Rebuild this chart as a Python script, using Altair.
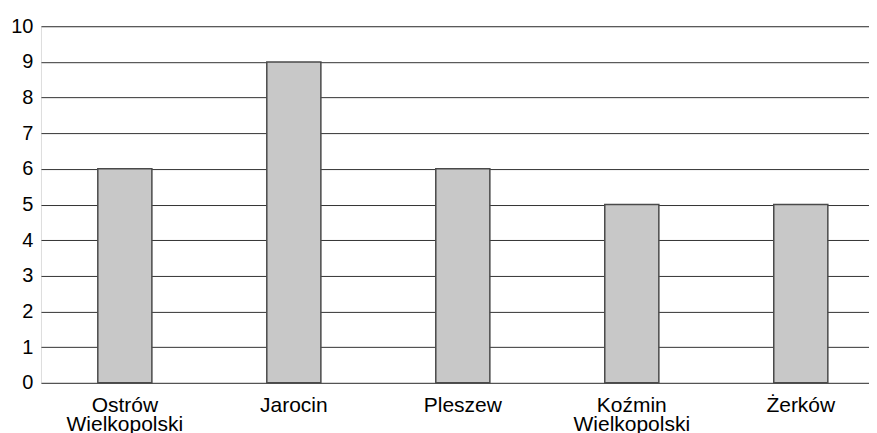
import altair as alt
import pandas as pd

towns = ["Ostrów\nWielkopolski", "Jarocin", "Pleszew", "Koźmin\nWielkopolski", "Żerków"]
values = [6, 9, 6, 5, 5]

df = pd.DataFrame({"town": towns, "value": values})

chart = alt.Chart(df).mark_bar(
    color="#c8c8c8", stroke="#4a4a4a", strokeWidth=1.5
).encode(
    x=alt.X("town:N", sort=towns, title=None,
            scale=alt.Scale(paddingInner=0.68, paddingOuter=0.29, align=0.58),
            axis=alt.Axis(labelAngle=0, ticks=False, domain=False,
                          labelExpr="split(datum.label, '\\n')",
                          labelFont="Liberation Sans", labelFontSize=21,
                          labelColor="#000", labelPadding=12, labelLineHeight=19)),
    y=alt.Y("value:Q", title=None,
            scale=alt.Scale(domain=[0, 10], nice=False),
            axis=alt.Axis(values=list(range(0, 11)), ticks=False, domain=False,
                          grid=True, gridColor="#333", gridWidth=1, gridOpacity=1,
                          labelFont="Liberation Sans", labelFontSize=20,
                          labelColor="#000", labelPadding=8))
).properties(
    width=829, height=357,
    autosize=alt.AutoSizeParams(type="none"),
    padding={"left": 33, "top": 18, "right": 0, "bottom": 60}
).configure_view(stroke=None).configure(background="white")

chart.save("out.html", embed_options={"renderer": "svg", "actions": False})
